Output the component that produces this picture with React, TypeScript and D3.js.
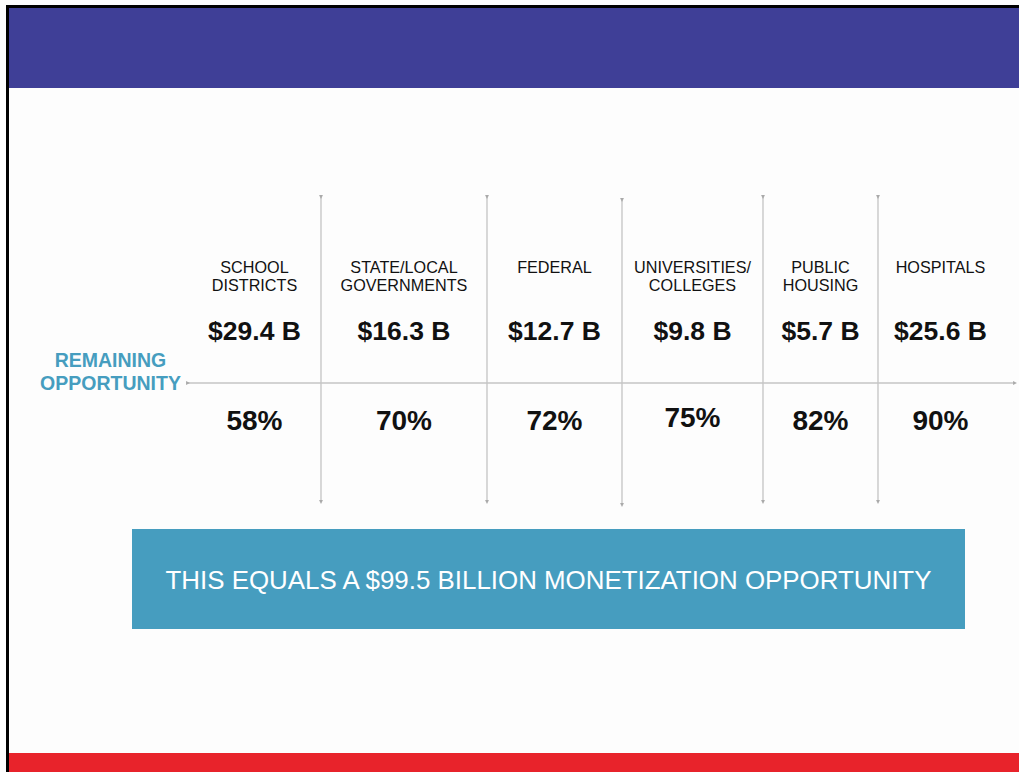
import React from "react";
import * as d3 from "d3";

// ---- data ----
const categoriesLine1 = ["SCHOOL", "STATE/LOCAL", "FEDERAL", "UNIVERSITIES/", "PUBLIC", "HOSPITALS"];
const categoriesLine2 = ["DISTRICTS", "GOVERNMENTS", "", "COLLEGES", "HOUSING", ""];
const opportunityBillions = [29.4, 16.3, 12.7, 9.8, 5.7, 25.6];
const remainingPercent = [58, 70, 72, 75, 82, 90];
const totalBillions = 99.5;
const rowLabel = ["REMAINING", "OPPORTUNITY"];

// ---- layout ----
const W = 1019;
const H = 772;
const columnEdges = [188, 321, 487, 622, 763, 878, 1003];
const FONT = "'Liberation Sans', Arial, Helvetica, sans-serif";
const BLUE = "#3f3f97";
const RED = "#e8232b";
const TEAL = "#469dbf";
const GRID = "#c4c4c4";

export default function App() {
  const idx = d3.range(categoriesLine1.length);
  const edge = d3.scaleOrdinal<number, number>().domain(d3.range(columnEdges.length)).range(columnEdges);
  const center = (i: number) => (edge(i) + edge(i + 1)) / 2;
  const y = d3.scaleLinear().domain([0, 1]).range([197, 502]);
  const axisY = 383;
  const fmtB = (v: number) => `$${d3.format(".1f")(v)} B`;
  const fmtP = (v: number) => `${v}%`;

  const dividers = d3.range(1, columnEdges.length - 1);

  return (
    <svg width={W} height={H} style={{ position: "absolute", left: 0, top: 0, background: "#fdfdfd" }} fontFamily={FONT}>
      <rect x={0} y={0} width={W} height={H} fill="#fdfdfd" />
      {/* frame */}
      <rect x={6} y={5} width={W - 6} height={3} fill="#000" />
      <rect x={6} y={5} width={3} height={H - 5} fill="#000" />
      <rect x={9} y={8} width={W - 9} height={80} fill={BLUE} />
      <rect x={9} y={753} width={W - 9} height={H - 753} fill={RED} />

      <defs>
        <marker id="arrEnd" viewBox="0 0 6 6" refX="3" refY="3" markerWidth="3" markerHeight="3" orient="auto">
          <path d="M0,0 L6,3 L0,6 z" fill="#aaa" />
        </marker>
      </defs>

      {/* axis */}
      <line x1={columnEdges[0]} x2={1015} y1={axisY} y2={axisY} stroke={GRID} strokeWidth={1.3}
        markerStart="url(#arrEnd)" markerEnd="url(#arrEnd)" />
      {dividers.map((d) => (
        <line key={d} x1={edge(d)} x2={edge(d)} y1={d === 3 ? y(0) + 3 : y(0)} y2={d === 3 ? y(1) + 3 : y(1)}
          stroke={GRID} strokeWidth={1.3} markerStart="url(#arrEnd)" markerEnd="url(#arrEnd)" />
      ))}

      {/* row label */}
      <text fill={TEAL} fontWeight="bold" fontSize={19.5} textAnchor="middle">
        <tspan x={110.5} y={367}>{rowLabel[0]}</tspan>
        <tspan x={110.5} y={389.5}>{rowLabel[1]}</tspan>
      </text>

      {idx.map((i) => (
        <g key={i} textAnchor="middle" fill="#111">
          <text fontSize={16.2}>
            <tspan x={center(i)} y={272.5}>{categoriesLine1[i]}</tspan>
            {categoriesLine2[i] && <tspan x={center(i)} y={291.2}>{categoriesLine2[i]}</tspan>}
          </text>
          <text x={center(i)} y={339.5} fontSize={26.5} fontWeight="bold">{fmtB(opportunityBillions[i])}</text>
          <text x={center(i)} y={i === 3 ? 426.5 : 429.5} fontSize={28} fontWeight="bold">{fmtP(remainingPercent[i])}</text>
        </g>
      ))}

      {/* summary box */}
      <rect x={132} y={529} width={833} height={100} fill={TEAL} />
      <text x={548.5} y={589} textAnchor="middle" fill="#fff" fontSize={25.9}>
        {`THIS EQUALS A $${totalBillions} BILLION MONETIZATION OPPORTUNITY`}
      </text>
    </svg>
  );
}
